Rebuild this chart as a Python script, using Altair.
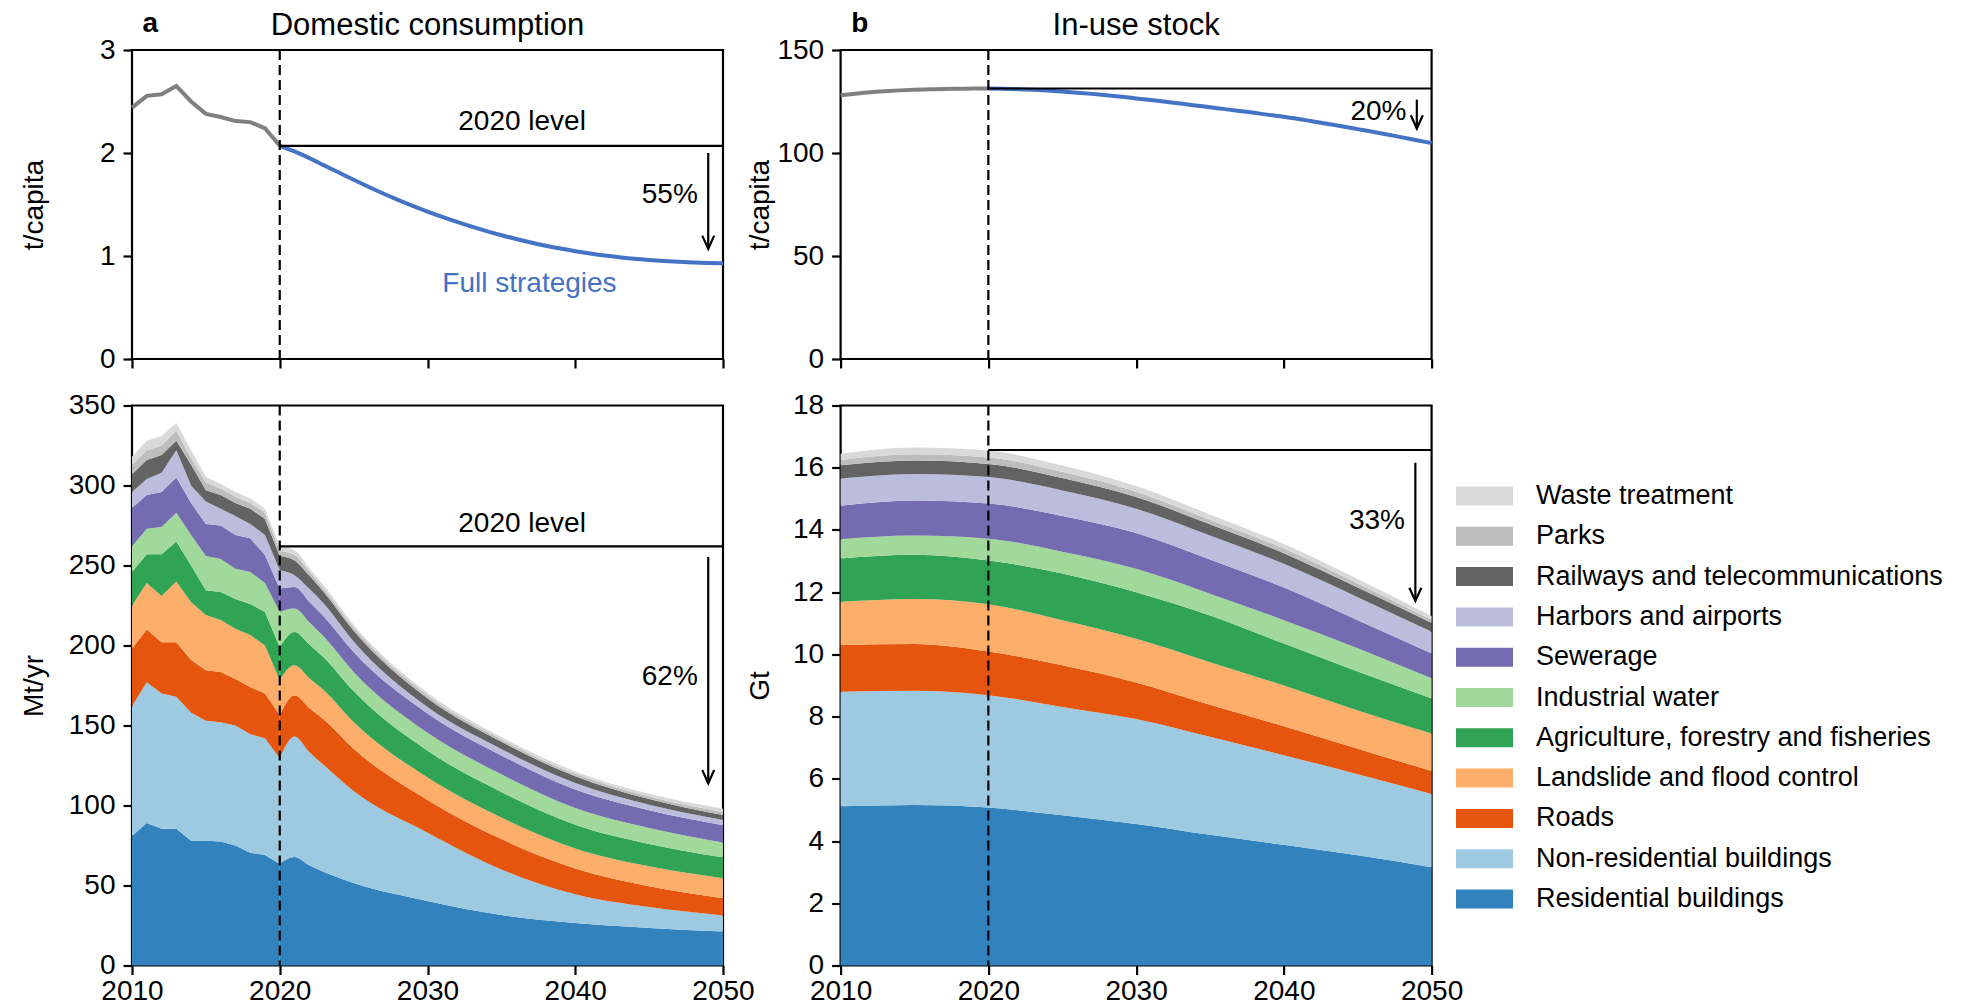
import altair as alt
import pandas as pd

FONT = "Liberation Sans"
BLUE = "#4472c4"
GREY = "#808080"

# ---------------- data ----------------
# stacking order, bottom -> top
categories = [
    "Residential buildings", "Non-residential buildings", "Roads",
    "Landslide and flood control", "Agriculture, forestry and fisheries",
    "Industrial water", "Sewerage", "Harbors and airports",
    "Railways and telecommunications", "Parks", "Waste treatment",
]
colors = ["#3182bd", "#9ecae1", "#e6550d", "#fdae6b", "#31a354", "#a1d99b",
          "#756bb1", "#bcbddc", "#636363", "#bdbdbd", "#d9d9d9"]

# panel a, top: domestic consumption per capita (t/capita)
dc_hist_years = list(range(2010, 2021))
dc_hist_values = [2.44, 2.555, 2.57, 2.65, 2.50, 2.38, 2.35, 2.31, 2.30, 2.24, 2.07]
dc_proj_years = list(range(2020, 2051))
dc_proj_values = [2.070, 2.015, 1.950, 1.880, 1.810, 1.740, 1.672, 1.607, 1.545, 1.487, 1.432,
                  1.380, 1.331, 1.285, 1.242, 1.202, 1.165, 1.131, 1.100, 1.072, 1.047,
                  1.025, 1.005, 0.988, 0.973, 0.961, 0.951, 0.943, 0.937, 0.933, 0.930]
dc_level = 2.07

# panel b, top: in-use stock per capita (t/capita)
st_hist_years = list(range(2010, 2021))
st_hist_values = [128.0, 128.8, 129.5, 130.0, 130.4, 130.7, 130.9, 131.1, 131.2, 131.3, 131.3]
st_proj_years = list(range(2020, 2051))
st_proj_values = [131.3, 131.2, 131.0, 130.7, 130.3, 129.8, 129.3, 128.7, 128.0, 127.3, 126.5,
                  125.7, 124.9, 124.0, 123.1, 122.2, 121.3, 120.4, 119.5, 118.5, 117.6,
                  116.5, 115.3, 114.1, 112.9, 111.6, 110.3, 109.0, 107.6, 106.2, 104.8]
st_level = 131.3

# panel a, bottom: domestic consumption by category (Mt/yr)
mt_hist_years = list(range(2010, 2021))
mt_hist = {
    "Residential buildings": [81, 89, 85.5, 85.5, 78, 78, 77.5, 75, 70.5, 69, 63.5],
    "Non-residential buildings": [81, 88, 84.5, 82.5, 80, 75, 74.5, 75, 74, 73, 66],
    "Roads": [36, 33, 32, 34, 33, 31.5, 31.5, 29, 29.5, 28, 27],
    "Landslide and flood control": [27, 29, 29, 38, 36, 34.5, 32.5, 31.5, 32.5, 30, 22],
    "Agriculture, forestry and fisheries": [21, 18, 26, 25, 23, 15.5, 17.5, 18.5, 19.5, 21, 20.5],
    "Industrial water": [16, 16, 17, 18, 19, 21.5, 20.5, 19, 20, 18, 22],
    "Sewerage": [24, 21, 22, 22, 20, 20, 21, 21, 21, 17.5, 14.5],
    "Harbors and airports": [10, 10, 12, 17, 11, 14, 10.5, 12, 9, 12.5, 11.5],
    "Railways and telecommunications": [11, 12, 11, 6, 13, 7, 8.5, 8, 9.5, 10, 9],
    "Parks": [6, 6, 6, 6, 4, 5, 4, 4, 3.5, 4, 3],
    "Waste treatment": [5, 6, 6, 5, 5, 3.5, 3, 3, 3, 2.5, 3],
}
mt_proj_years = [2020, 2021, 2022, 2023, 2025, 2030, 2035, 2040, 2045, 2050]
mt_proj = {
    "Residential buildings": [63.5, 67.8, 62.6, 58.4, 51.5, 40.3, 31.5, 26.5, 23.5, 21.2],
    "Non-residential buildings": [66, 75.4, 70.8, 66.7, 57.5, 42.7, 28.5, 18, 13, 10.1],
    "Roads": [27, 25.7, 27.5, 28.5, 26.5, 20.5, 19, 16.2, 13, 10.7],
    "Landslide and flood control": [22, 18.7, 18.7, 18.3, 16.7, 14, 13.5, 12.5, 12.5, 12.5],
    "Agriculture, forestry and fisheries": [20.5, 20.9, 21, 20.5, 19.3, 16.7, 16, 14.8, 14, 13.1],
    "Industrial water": [22, 14.6, 14, 13, 12, 11.3, 11, 10.5, 10, 9.3],
    "Sewerage": [14.5, 13.5, 12.8, 12.5, 12.4, 12, 11.8, 11.5, 11, 10.7],
    "Harbors and airports": [11.5, 7.3, 8, 8, 6.6, 4, 4, 4, 3.5, 3.4],
    "Railways and telecommunications": [9, 9.3, 8.3, 7.3, 6.7, 5.5, 4.5, 4.3, 3.5, 3],
    "Parks": [3, 3.3, 2.6, 2, 2, 1.8, 1.5, 1.5, 1.7, 2],
    "Waste treatment": [3, 3, 2, 2.1, 1.8, 1.7, 1.5, 1.5, 1.6, 2],
}
mt_level = 262

# panel b, bottom: in-use stock by category (Gt)
gt_years = [2010, 2015, 2020, 2025, 2030, 2035, 2040, 2045, 2050]
gt = {
    "Residential buildings": [5.12, 5.16, 5.08, 4.83, 4.55, 4.20, 3.88, 3.54, 3.16],
    "Non-residential buildings": [3.68, 3.67, 3.61, 3.48, 3.37, 3.15, 2.88, 2.61, 2.35],
    "Roads": [1.50, 1.50, 1.40, 1.34, 1.18, 1.03, 0.93, 0.82, 0.74],
    "Landslide and flood control": [1.39, 1.45, 1.52, 1.45, 1.40, 1.37, 1.31, 1.23, 1.21],
    "Agriculture, forestry and fisheries": [1.39, 1.42, 1.41, 1.50, 1.50, 1.50, 1.35, 1.25, 1.12],
    "Industrial water": [0.62, 0.62, 0.70, 0.70, 0.75, 0.70, 0.75, 0.75, 0.65],
    "Sewerage": [1.08, 1.13, 1.13, 1.15, 1.15, 1.10, 1.05, 0.90, 0.80],
    "Harbors and airports": [0.87, 0.85, 0.85, 0.82, 0.78, 0.77, 0.76, 0.74, 0.70],
    "Railways and telecommunications": [0.43, 0.43, 0.42, 0.40, 0.38, 0.36, 0.34, 0.31, 0.28],
    "Parks": [0.17, 0.20, 0.21, 0.20, 0.17, 0.15, 0.15, 0.13, 0.10],
    "Waste treatment": [0.20, 0.22, 0.22, 0.20, 0.18, 0.17, 0.15, 0.14, 0.12],
}
gt_level = 16.57

YEAR_TICKS = [2010, 2020, 2030, 2040, 2050]

# ---------------- helpers ----------------
W = 591
H_TOP = 309
H_BOT = 560
ARROW = "M-1,-2.2L0,0L1,-2.2"


def long_df(years, table):
    rows = []
    for i, cat in enumerate(categories):
        for y, v in zip(years, table[cat]):
            rows.append({"year": y, "value": v, "cat": cat, "idx": i})
    return pd.DataFrame(rows)


x_scale = alt.Scale(domain=[2010, 2050], nice=False, zero=False)


def X(labels):
    return alt.X("year:Q", scale=x_scale,
                 axis=alt.Axis(values=YEAR_TICKS, format="d", labels=labels, title=None,
                               labelPadding=3, tickSize=9, labelFlush=False, labelOverlap=False))


def y_axis(ticks, title, title_x, height):
    return alt.Axis(values=ticks, title=title, titleX=title_x, titleY=height / 2,
                    titleAngle=270, titleAlign="center", titleBaseline="middle",
                    labelPadding=8, tickSize=9, labelFlush=False, labelOverlap=False)


def Y(domain, ticks, title, title_x, height, stack=False):
    if stack:
        return alt.Y("value:Q", stack="zero", scale=alt.Scale(domain=domain, nice=False),
                     axis=y_axis(ticks, title, title_x, height))
    return alt.Y("value:Q", scale=alt.Scale(domain=domain, nice=False, zero=True),
                 axis=y_axis(ticks, title, title_x, height))


color_enc = alt.Color(
    "cat:N",
    scale=alt.Scale(domain=categories[::-1], range=colors[::-1]),
    legend=alt.Legend(
        title=None, orient="none", legendX=1333.5, legendY=427,
        symbolType="M-1.5,-0.5H1.5V0.5H-1.5Z", symbolSize=1444, symbolStrokeWidth=0,
        symbolOpacity=1, labelFont=FONT, labelFontSize=27, labelColor="black",
        labelOffset=32.5, labelLimit=800, rowPadding=8.3, padding=0,
    ),
)


def guide_layers(xe, ye, level, arrow_x, arrow_top, arrow_bot, pct_text, pct_x, pct_y):
    dash = alt.Chart(pd.DataFrame({"year": [2020]})).mark_rule(
        color="black", strokeWidth=2.2, strokeDash=[10, 5]).encode(x=xe)
    lvl = alt.Chart(pd.DataFrame({"year": [2020], "year2": [2050], "value": [level]})).mark_rule(
        color="black", strokeWidth=2.2).encode(x=xe, x2="year2:Q", y=ye)
    arr = alt.Chart(pd.DataFrame({"year": [arrow_x], "value": [arrow_top], "value2": [arrow_bot]})).mark_rule(
        color="black", strokeWidth=2.2).encode(x=xe, y=ye, y2="value2:Q")
    head = alt.Chart(pd.DataFrame({"year": [arrow_x], "value": [arrow_bot]})).mark_point(
        shape=ARROW, filled=False, stroke="black", strokeWidth=2.2, size=144, opacity=1).encode(x=xe, y=ye)
    pct = alt.Chart(pd.DataFrame({"year": [pct_x], "value": [pct_y], "label": [pct_text]})).mark_text(
        font=FONT, fontSize=28, color="black", align="center", baseline="middle").encode(
        x=xe, y=ye, text="label:N")
    return [dash, lvl, arr, head, pct]


def text_layer(xe, ye, year, value, label, color="black", size=28):
    return alt.Chart(pd.DataFrame({"year": [year], "value": [value], "label": [label]})).mark_text(
        font=FONT, fontSize=size, color=color, align="center", baseline="middle").encode(
        x=xe, y=ye, text="label:N")


def headers(letter, title):
    a = alt.Chart(pd.DataFrame({"label": [letter]})).mark_text(
        font=FONT, fontSize=28, fontWeight="bold", color="black", align="left",
        baseline="alphabetic").encode(x=alt.value(10.6), y=alt.value(-18.5), text="label:N")
    t = alt.Chart(pd.DataFrame({"label": [title]})).mark_text(
        font=FONT, fontSize=31, color="black", align="center",
        baseline="alphabetic").encode(x=alt.value(W / 2), y=alt.value(-15.5), text="label:N")
    return [a, t]


# ---------------- panel a, top ----------------
xa = X(False)
ya = Y([0, 3], [0, 1, 2, 3], "t/capita", -98, H_TOP)
tl = alt.layer(
    alt.Chart(pd.DataFrame({"year": dc_hist_years, "value": dc_hist_values})).mark_line(
        color=GREY, strokeWidth=4).encode(x=xa, y=ya),
    alt.Chart(pd.DataFrame({"year": dc_proj_years, "value": dc_proj_values})).mark_line(
        color=BLUE, strokeWidth=4, interpolate="monotone").encode(x=xa, y=ya),
    *guide_layers(xa, ya, dc_level, 2049.0, 2.0, 1.07, "55%", 2046.4, 1.59),
    text_layer(xa, ya, 2036.4, 2.30, "2020 level"),
    text_layer(xa, ya, 2036.9, 0.73, "Full strategies", color=BLUE),
    *headers("a", "Domestic consumption"),
).properties(width=W, height=H_TOP)

# ---------------- panel b, top ----------------
xb = X(False)
yb = Y([0, 150], [0, 50, 100, 150], "t/capita", -80, H_TOP)
tr = alt.layer(
    alt.Chart(pd.DataFrame({"year": st_hist_years, "value": st_hist_values})).mark_line(
        color=GREY, strokeWidth=4, interpolate="monotone").encode(x=xb, y=yb),
    alt.Chart(pd.DataFrame({"year": st_proj_years, "value": st_proj_values})).mark_line(
        color=BLUE, strokeWidth=4, interpolate="monotone").encode(x=xb, y=yb),
    *guide_layers(xb, yb, st_level, 2049.0, 125.9, 111.9, "20%", 2046.4, 119.9),
    *headers("b", "In-use stock"),
).properties(width=W, height=H_TOP)

# ---------------- panel a, bottom ----------------
MT_TICKS = [0, 50, 100, 150, 200, 250, 300, 350]
xc = X(True)
yc = Y([0, 350], MT_TICKS, "Mt/yr", -98, H_BOT)
yc_st = Y([0, 350], MT_TICKS, "Mt/yr", -98, H_BOT, stack=True)
bl = alt.layer(
    alt.Chart(long_df(mt_hist_years, mt_hist)).mark_area(opacity=1).encode(
        x=xc, y=yc_st, color=color_enc, order=alt.Order("idx:Q", sort="ascending")),
    alt.Chart(long_df(mt_proj_years, mt_proj)).mark_area(opacity=1, interpolate="monotone").encode(
        x=xc, y=yc_st, color=color_enc, order=alt.Order("idx:Q", sort="ascending")),
    *guide_layers(xc, yc, mt_level, 2049.0, 255.4, 113.9, "62%", 2046.4, 180.3),
    text_layer(xc, yc, 2036.4, 276, "2020 level"),
).properties(width=W, height=H_BOT)

# ---------------- panel b, bottom ----------------
GT_TICKS = list(range(0, 19, 2))
xd = X(True)
yd = Y([0, 18], GT_TICKS, "Gt", -80, H_BOT)
yd_st = Y([0, 18], GT_TICKS, "Gt", -80, H_BOT, stack=True)
br = alt.layer(
    alt.Chart(long_df(gt_years, gt)).mark_area(opacity=1, interpolate="monotone").encode(
        x=xd, y=yd_st, color=color_enc, order=alt.Order("idx:Q", sort="ascending")),
    *guide_layers(xd, yd, gt_level, 2048.9, 16.16, 11.72, "33%", 2046.3, 14.29),
).properties(width=W, height=H_BOT)

chart = alt.concat(
    tl, tr, bl, br, columns=2, spacing={"row": 46.5, "column": 117.6}, bounds="flush"
).properties(
    padding={"left": 10, "top": 0, "right": 4, "bottom": 4}
).configure(font=FONT).configure_view(
    stroke="black", strokeWidth=2.2
).configure_axis(
    labelFont=FONT, labelFontSize=28, labelColor="black",
    titleFont=FONT, titleFontSize=28, titleFontWeight="normal", titleColor="black",
    tickColor="black", tickWidth=2.2, domain=False, grid=False,
)

chart.save("out.html", embed_options={"renderer": "svg", "actions": False})
